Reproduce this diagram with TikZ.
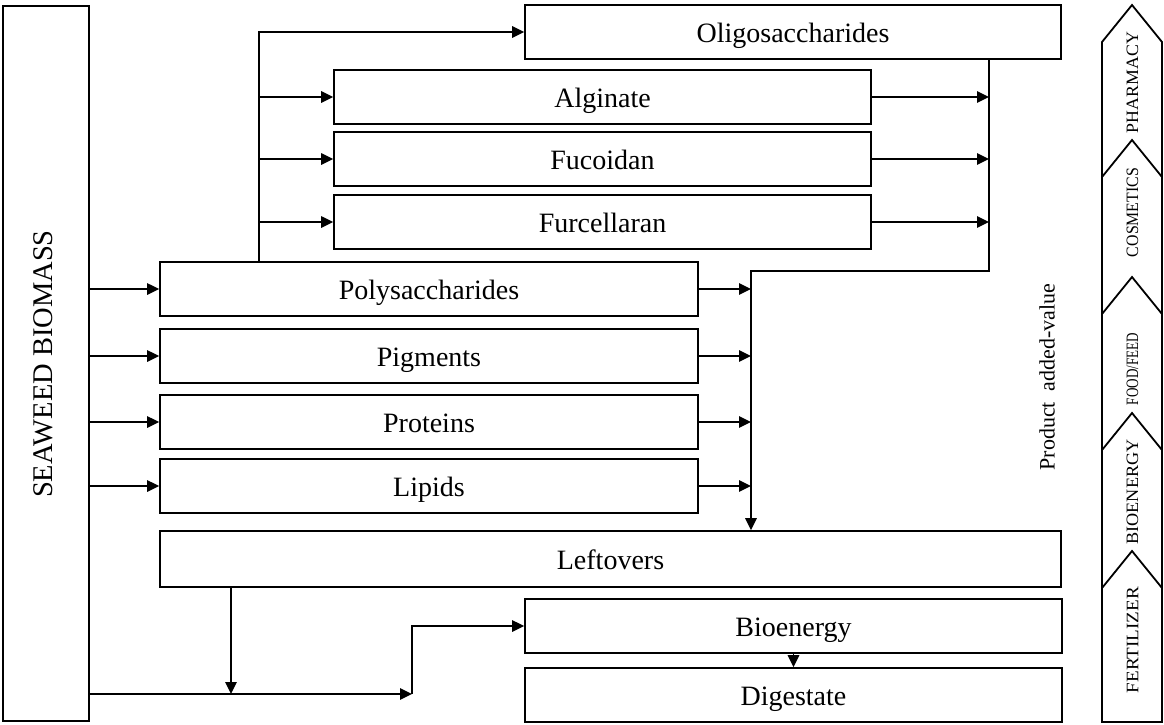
\documentclass[tikz,border=0pt]{standalone}
\usepackage{fontspec}
\setmainfont{Liberation Serif}
\usetikzlibrary{arrows.meta}
\newcommand{\chevlabel}[2]{\resizebox{#1pt}{11.5pt}{#2}}
\begin{document}
\begin{tikzpicture}[x=1pt,y=-1pt,
  box/.style={draw, line width=1.8pt, inner sep=0pt, text height=24pt, text depth=2.5pt,
    font=\fontsize{28}{32}\selectfont},
  bigtext/.style={font=\fontsize{28.5}{32}\selectfont, inner sep=0pt},
  arr/.style={line width=1.5pt, -{Triangle[length=12pt,width=11.5pt]}},
  chev/.style={line width=1.8pt, line join=miter},
  chevtext/.style={rotate=90, inner sep=0pt}]
\useasboundingbox (0,0) rectangle (1164,724);

% source column
\node[box, minimum width=86pt, minimum height=715pt] (sb) at (46,363.5) {};
\node[bigtext, rotate=90] (sbt) at (43,364) {SEAWEED BIOMASS};

% first fractionation
\node[box, minimum width=538pt, minimum height=54pt] (poly) at (429,289) {Polysaccharides};
\node[box, minimum width=538pt, minimum height=54pt] (pig)  at (429,356) {Pigments};
\node[box, minimum width=538pt, minimum height=54pt] (pro)  at (429,422) {Proteins};
\node[box, minimum width=538pt, minimum height=54pt] (lip)  at (429,486) {Lipids};

% polysaccharide products
\node[box, minimum width=536pt, minimum height=54pt] (oligo) at (793,32) {Oligosaccharides};
\node[box, minimum width=537pt, minimum height=54pt] (alg) at (602.5,97) {Alginate};
\node[box, minimum width=537pt, minimum height=54pt] (fuc) at (602.5,159) {Fucoidan};
\node[box, minimum width=537pt, minimum height=54pt] (fur) at (602.5,222) {Furcellaran};

% residues
\node[box, minimum width=901pt, minimum height=56pt] (left) at (610.5,559) {Leftovers};
\node[box, minimum width=537pt, minimum height=54pt] (bio) at (793.5,626) {Bioenergy};
\node[box, minimum width=537pt, minimum height=54pt] (dig) at (793.5,695) {Digestate};

% routing points
\coordinate (vx) at (259,0);
\coordinate (rx) at (989,0);
\coordinate (mx) at (751,0);
\coordinate (turn) at (989,271);
\coordinate (lx) at (231,0);
\coordinate (bx) at (412,694);

% biomass to fractions
\foreach \n in {poly,pig,pro,lip}
  \draw[arr] (sb.east |- \n.west) -- (\n.west);

% polysaccharide branch
\draw[arr] (poly.north -| vx) |- (oligo.west);
\foreach \n in {alg,fuc,fur}
  \draw[arr] (vx |- \n.west) -- (\n.west);
\foreach \n in {alg,fuc,fur}
  \draw[arr] (\n.east) -- (\n.east -| rx);

% collection into leftovers
\draw[arr] (oligo.south -| turn) -- (turn) -| (left.north -| mx);
\foreach \n in {poly,pig,pro,lip}
  \draw[arr] (\n.east) -- (\n.east -| mx);

% energy route
\draw[arr] (left.south -| lx) -- (lx |- bx);
\draw[arr] (sb.east |- bx) -- (bx);
\draw[arr] (bx) |- (bio.west);
\draw[arr] (bio.south) -- (dig.north);

% value scale
\node[rotate=90, inner sep=0pt, font=\fontsize{22}{26}\selectfont] (pav) at (1047,377) {Product\ \ added-value};
\draw[chev] (1102,722) -- (1102,42) -- (1132,5) -- (1162,42) -- (1162,722) -- cycle;
\foreach \p in {140,277,413,551}
  \draw[chev] (1102,\p+37) -- (1132,\p) -- (1162,\p+37);
\node[chevtext] (c1) at (1132.5,82.5) {\chevlabel{101}{PHARMACY}};
\node[chevtext] (c2) at (1132.5,212.5) {\chevlabel{89}{COSMETICS}};
\node[chevtext] (c3) at (1132.5,369) {\chevlabel{72}{FOOD/FEED}};
\node[chevtext] (c4) at (1132.5,492) {\chevlabel{105}{BIOENERGY}};
\node[chevtext] (c5) at (1132.5,640) {\chevlabel{106}{FERTILIZER}};
\end{tikzpicture}
\end{document}
